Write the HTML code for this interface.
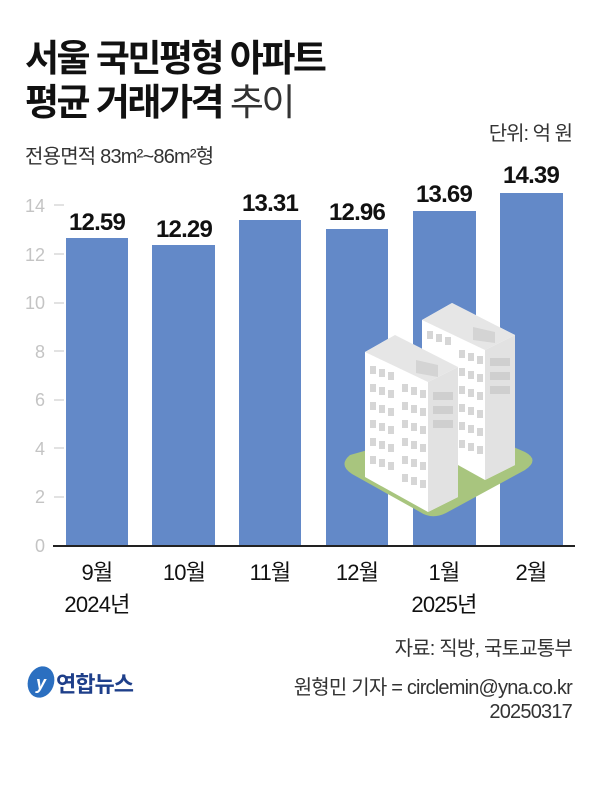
<!DOCTYPE html>
<html><head><meta charset="utf-8"><style>
html,body{margin:0;padding:0;background:#fff;}
svg{display:block;font-family:"Liberation Sans","Noto Sans CJK KR",sans-serif;}
</style></head><body>
<svg width="600" height="807" viewBox="0 0 600 807" xmlns="http://www.w3.org/2000/svg">
<rect width="600" height="807" fill="#fff"/>
<text x="25" y="71" font-size="37" font-weight="bold" fill="#111" letter-spacing="-2.5">서울 국민평형 아파트</text>
<text x="25" y="115" font-size="37" font-weight="bold" fill="#111" letter-spacing="-2.5">평균 거래가격 <tspan font-weight="normal" fill="#333">추이</tspan></text>
<text x="572" y="140" font-size="20" fill="#333" text-anchor="end" letter-spacing="-1">단위: 억 원</text>
<text x="25" y="163" font-size="20" fill="#333" letter-spacing="-0.8">전용면적 83m²~86m²형</text>
<g font-size="18" fill="#c4c4c4" text-anchor="end">
<text x="45" y="552">0</text><text x="45" y="503">2</text><text x="45" y="455">4</text><text x="45" y="406">6</text><text x="45" y="358">8</text><text x="45" y="309">10</text><text x="45" y="261">12</text><text x="45" y="212">14</text>
</g>
<g stroke="#c4c4c4" stroke-width="1">
<line x1="54" x2="64" y1="497" y2="497"/><line x1="54" x2="64" y1="448" y2="448"/><line x1="54" x2="64" y1="400" y2="400"/><line x1="54" x2="64" y1="351" y2="351"/><line x1="54" x2="64" y1="303" y2="303"/><line x1="54" x2="64" y1="254" y2="254"/><line x1="54" x2="64" y1="205" y2="205"/>
</g>
<g fill="#6389c8">
<rect x="66" y="238" width="62" height="308"/>
<rect x="152" y="245" width="63" height="301"/>
<rect x="239" y="220" width="62" height="326"/>
<rect x="326" y="229" width="62" height="317"/>
<rect x="413" y="211" width="63" height="335"/>
<rect x="500" y="193" width="63" height="353"/>
</g>
<!-- buildings -->
<path d="M350 455 Q338 465 352 474 L420 512 Q432 520 446 513 L525 470 Q540 460 525 452 L470 428 Q458 422 446 428 Z" fill="#a8c57e"/>
<g>
<polygon points="422,320 452,303 515,335 515,465 485,480 422,445" fill="#fff"/>
<polygon points="485,350 515,335 515,465 485,480" fill="#e2e2e2"/>
<polygon points="422,320 452,303 515,335 485,350" fill="#e6e6e6"/>
<polygon points="473,327 495,332 495,343 473,340" fill="#d4d4d4"/>
<polygon points="365,352 395,335 458,367 458,497 428,512 365,477" fill="#fff"/>
<polygon points="428,382 458,367 458,497 428,512" fill="#e2e2e2"/>
<polygon points="365,352 395,335 458,367 428,382" fill="#e6e6e6"/>
<polygon points="416,360 438,365 438,377 416,373" fill="#d4d4d4"/>
<g fill="#cfcfcf">
<rect x="433" y="392" width="20" height="8"/><rect x="433" y="406" width="20" height="8"/><rect x="433" y="420" width="20" height="8"/>
<rect x="490" y="358" width="20" height="8"/><rect x="490" y="372" width="20" height="8"/><rect x="490" y="386" width="20" height="8"/>
</g>
<g fill="#d6d6d6">
<rect x="370" y="366" width="6" height="8"/><rect x="379" y="369" width="6" height="8"/><rect x="388" y="372" width="6" height="8"/>
<rect x="370" y="384" width="6" height="8"/><rect x="379" y="387" width="6" height="8"/><rect x="388" y="390" width="6" height="8"/>
<rect x="370" y="402" width="6" height="8"/><rect x="379" y="405" width="6" height="8"/><rect x="388" y="408" width="6" height="8"/>
<rect x="370" y="420" width="6" height="8"/><rect x="379" y="423" width="6" height="8"/><rect x="388" y="426" width="6" height="8"/>
<rect x="370" y="438" width="6" height="8"/><rect x="379" y="441" width="6" height="8"/><rect x="388" y="444" width="6" height="8"/>
<rect x="370" y="456" width="6" height="8"/><rect x="379" y="459" width="6" height="8"/><rect x="388" y="462" width="6" height="8"/>
<rect x="402" y="384" width="6" height="8"/><rect x="411" y="387" width="6" height="8"/><rect x="420" y="390" width="6" height="8"/>
<rect x="402" y="402" width="6" height="8"/><rect x="411" y="405" width="6" height="8"/><rect x="420" y="408" width="6" height="8"/>
<rect x="402" y="420" width="6" height="8"/><rect x="411" y="423" width="6" height="8"/><rect x="420" y="426" width="6" height="8"/>
<rect x="402" y="438" width="6" height="8"/><rect x="411" y="441" width="6" height="8"/><rect x="420" y="444" width="6" height="8"/>
<rect x="402" y="456" width="6" height="8"/><rect x="411" y="459" width="6" height="8"/><rect x="420" y="462" width="6" height="8"/>
<rect x="402" y="474" width="6" height="8"/><rect x="411" y="477" width="6" height="8"/><rect x="420" y="480" width="6" height="8"/>
<rect x="427" y="331" width="6" height="8"/><rect x="436" y="334" width="6" height="8"/><rect x="445" y="337" width="6" height="8"/>
<rect x="459" y="350" width="6" height="8"/><rect x="468" y="353" width="6" height="8"/><rect x="477" y="356" width="6" height="8"/>
<rect x="459" y="368" width="6" height="8"/><rect x="468" y="371" width="6" height="8"/><rect x="477" y="374" width="6" height="8"/>
<rect x="459" y="386" width="6" height="8"/><rect x="468" y="389" width="6" height="8"/><rect x="477" y="392" width="6" height="8"/>
<rect x="459" y="404" width="6" height="8"/><rect x="468" y="407" width="6" height="8"/><rect x="477" y="410" width="6" height="8"/>
<rect x="459" y="422" width="6" height="8"/><rect x="468" y="425" width="6" height="8"/><rect x="477" y="428" width="6" height="8"/>
<rect x="459" y="440" width="6" height="8"/><rect x="468" y="443" width="6" height="8"/><rect x="477" y="446" width="6" height="8"/>
</g>
</g>
<line x1="53" x2="575" y1="546" y2="546" stroke="#222" stroke-width="2"/>
<g font-size="24" font-weight="bold" fill="#111" text-anchor="middle" letter-spacing="-0.8">
<text x="97" y="230">12.59</text><text x="184" y="237">12.29</text><text x="270" y="211">13.31</text><text x="357" y="220">12.96</text><text x="444" y="202">13.69</text><text x="531" y="183">14.39</text>
</g>
<g font-size="22" fill="#111" text-anchor="middle" letter-spacing="-0.8">
<text x="97" y="580">9월</text><text x="184" y="580">10월</text><text x="270" y="580">11월</text><text x="357" y="580">12월</text><text x="444" y="580">1월</text><text x="531" y="580">2월</text>
<text x="97" y="612">2024년</text><text x="444" y="612">2025년</text>
</g>
<g font-size="20" fill="#333" text-anchor="end" letter-spacing="-0.8">
<text x="572" y="655">자료: 직방, 국토교통부</text>
<text x="572" y="694">원형민 기자 = circlemin@yna.co.kr</text>
<text x="572" y="718">20250317</text>
</g>
<ellipse cx="41" cy="682" rx="13" ry="16" fill="#2b6fc0" transform="rotate(20 41 682)"/>
<text x="41" y="689" font-size="18" font-style="italic" font-weight="bold" fill="#fff" text-anchor="middle">y</text>
<text x="56" y="692" font-size="22" font-weight="bold" fill="#1e3f8a" letter-spacing="-1">연합뉴스</text>
</svg>
</body></html>
